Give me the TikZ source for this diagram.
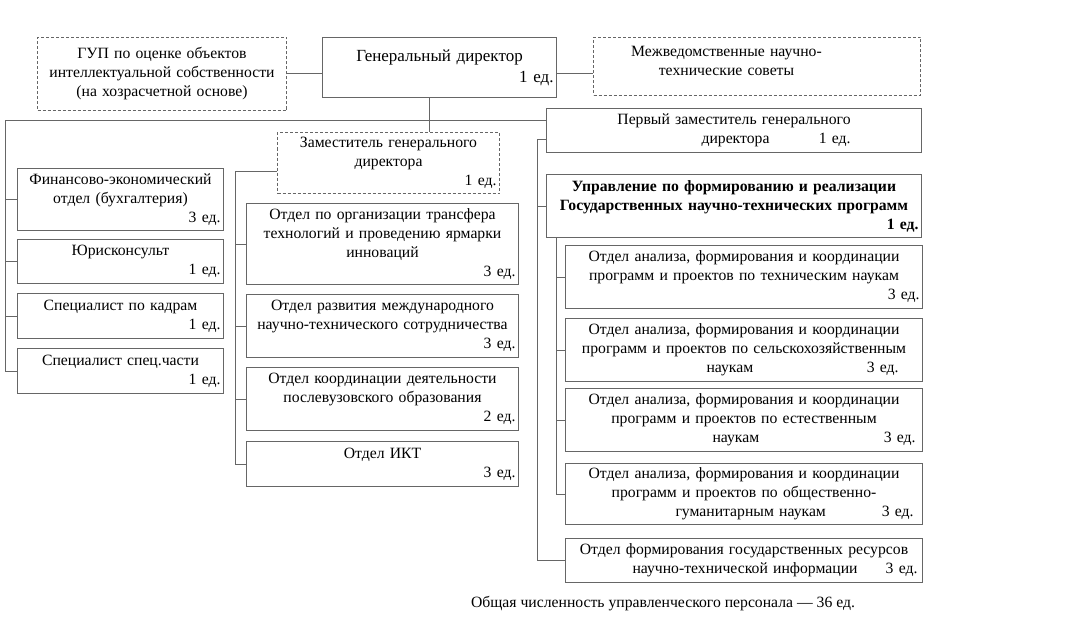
\documentclass[tikz,border=0pt]{standalone}
\usepackage{fontspec}
\setmainfont{Liberation Serif}
\usetikzlibrary{calc}
\tikzset{box/.style={rectangle,draw=black!60,line width=1pt,inner xsep=3pt,inner ysep=0pt,anchor=north west,align=center,font=\fontsize{15.7}{19}\selectfont}}
\tikzset{dbox/.style={box,dash pattern=on 3pt off 2pt}}
\tikzset{boxsize/.style 2 args={minimum width=#1pt,minimum height=#2pt,text width=#1pt-6pt}}
\tikzset{conn/.style={draw=black!60,line width=1pt}}
\tikzset{txt/.style={inner sep=0pt,font=\fontsize{15.7}{19}\selectfont}}

\begin{document}
\begin{tikzpicture}[x=1pt,y=-1pt]
\useasboundingbox (0,0) rectangle (1075,623);

% top row
\node[dbox, boxsize={249}{73}] (GUP) at (37,37) {ГУП по оценке объектов\\интеллектуальной собственности\\(на хозрасчетной основе)};
\node[box, boxsize={234}{60}, font=\fontsize{17}{21}\selectfont] (GD) at (322,37) {Генеральный директор\\\mbox{}\hfill 1 ед.};
\node[dbox, boxsize={327}{58}] (MNTS) at (593,37) {Межведомственные научно-\hspace{61pt}\mbox{}\\технические советы\hspace{61pt}\mbox{}\\[-7pt]\mbox{}};

% deputies
\node[box, boxsize={375}{44}] (Z1) at (546,108) {Первый заместитель генерального\\\makebox[\linewidth][l]{\hspace{152pt}директора\hfill 1 ед.\hspace{68pt}}};
\node[dbox, boxsize={222}{61}] (Z) at (277,132) {Заместитель генерального\\директора\\\mbox{}\hfill 1 ед.};

% left column
\node[box, boxsize={206}{62}] (L1) at (17,168) {Финансово-экономический\\отдел (бухгалтерия)\\\mbox{}\hfill 3 ед.};
\node[box, boxsize={206}{44}] (L2) at (17,239) {Юрисконсульт\\\mbox{}\hfill 1 ед.};
\node[box, boxsize={206}{45}] (L3) at (17,293) {Специалист по кадрам\\\mbox{}\hfill 1 ед.};
\node[box, boxsize={206}{45}] (L4) at (17,348) {Специалист спец.части\\\mbox{}\hfill 1 ед.};

% middle column
\node[box, boxsize={272}{81}] (M1) at (246,203) {Отдел по организации трансфера\\технологий и проведению ярмарки\\инноваций\\\mbox{}\hfill 3 ед.};
\node[box, boxsize={272}{63}] (M2) at (246,294) {Отдел развития международного\\научно-технического сотрудничества\\\mbox{}\hfill 3 ед.};
\node[box, boxsize={272}{63}] (M3) at (246,367) {Отдел координации деятельности\\послевузовского образования\\\mbox{}\hfill 2 ед.};
\node[box, boxsize={272}{45}] (M4) at (246,441) {Отдел ИКТ\\\mbox{}\hfill 3 ед.};

% right column
\node[box, boxsize={375}{63}, font=\fontsize{15.7}{19}\selectfont\bfseries] (U) at (546,174) {Управление по формированию и реализации\\Государственных научно-технических программ\\\mbox{}\hfill 1 ед.};
\node[box, boxsize={357}{63}] (R1) at (565,245) {Отдел анализа, формирования и координации\\программ и проектов по техническим наукам\\\mbox{}\hfill 3 ед.};
\node[box, boxsize={357}{63}] (R2) at (565,318) {Отдел анализа, формирования и координации\\программ и проектов по сельскохозяйственным\\\makebox[\linewidth][l]{\hspace{138pt}наукам\hfill 3 ед.\hspace{21pt}}};
\node[box, boxsize={357}{63}] (R3) at (565,388) {Отдел анализа, формирования и координации\\программ и проектов по естественным\\\makebox[\linewidth][l]{\hspace{144pt}наукам\hfill 3 ед.\hspace{4pt}}};
\node[box, boxsize={357}{61}] (R4) at (565,463) {Отдел анализа, формирования и координации\\программ и проектов по общественно-\\\makebox[\linewidth][l]{\hspace{107pt}гуманитарным наукам\hfill 3 ед.\hspace{6pt}}};
\node[box, boxsize={357}{44}] (R5) at (565,538) {Отдел формирования государственных ресурсов\\\makebox[\linewidth][l]{\hspace{64pt}научно-технической информации\hfill 3 ед.\hspace{2pt}}};

\node[txt] (T) at (663,604) {Общая численность управленческого персонала — 36 ед.};

% connectors
\draw[conn] (GUP.east) -- (GUP.east -| GD.west);
\draw[conn] (GD.east |- GUP.east) -- (GUP.east -| MNTS.west);
\coordinate (J) at (429,121);
\draw[conn] (J |- GD.south) -- (J |- Z.north);

\coordinate (BL) at (5,121);
\draw[conn] (Z1.west |- BL) -- (BL) |- (L4.west);
\foreach \k in {1,2,3}{
  \draw[conn] (BL |- L\k.west) -- (L\k.west);
}

\coordinate (BM) at (235,171);
\draw[conn] (Z.west |- BM) -- (BM) |- (M4.west);
\foreach \k in {1,2,3}{
  \draw[conn] (BM |- M\k.west) -- (M\k.west);
}

\coordinate (BR) at (537,139);
\draw[conn] (Z1.west |- BR) -- (BR) |- (R5.west);
\draw[conn] (BR |- U.west) -- (U.west);

\coordinate (BI) at (556,237);
\draw[conn] (BI |- U.south) |- (R4.west);
\foreach \k in {1,2,3}{
  \draw[conn] (BI |- R\k.west) -- (R\k.west);
}
\end{tikzpicture}
\end{document}
